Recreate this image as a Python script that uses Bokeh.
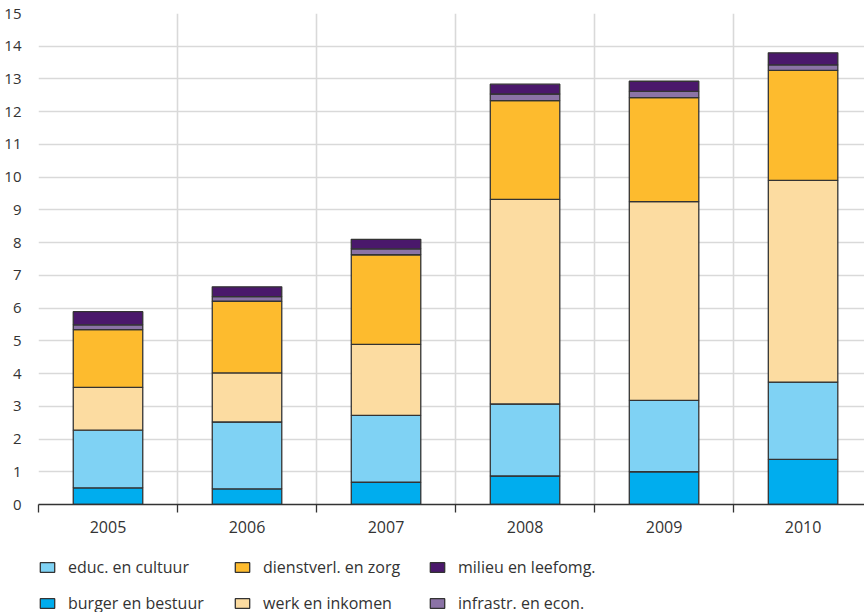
from bokeh.plotting import figure
from bokeh.layouts import column
from bokeh.models import Range1d, FixedTicker, LinearAxis, Legend, LegendItem, ColumnDataSource
from bokeh.embed import file_html
from bokeh.resources import INLINE

years = ["2005", "2006", "2007", "2008", "2009", "2010"]
burger = [0.51, 0.48, 0.68, 0.87, 1.00, 1.38]
educ = [1.76, 2.04, 2.04, 2.20, 2.18, 2.36]
werk = [1.31, 1.50, 2.17, 6.25, 6.07, 6.16]
dienst = [1.76, 2.19, 2.74, 3.02, 3.18, 3.36]
infra = [0.15, 0.14, 0.18, 0.20, 0.19, 0.17]
milieu = [0.40, 0.30, 0.29, 0.30, 0.31, 0.37]

series_keys = ["burger", "educ", "werk", "dienst", "infra", "milieu"]
series_names = ["burger en bestuur", "educ. en cultuur", "werk en inkomen",
                "dienstverl. en zorg", "infrastr. en econ.", "milieu en leefomg."]
colors = ["#00adee", "#7fd2f4", "#fcdca1", "#fdbb2e", "#8b73a6", "#4a186b"]
y_ticks = list(range(0, 16))

FONT = "Open Sans"
TXT = "#333333"

x_centers = [i + 0.5 for i in range(len(years))]
x_bounds = list(range(len(years) + 1))

src = ColumnDataSource(dict(x=x_centers, burger=burger, educ=educ, werk=werk,
                            dienst=dienst, infra=infra, milieu=milieu))

p = figure(width=864, height=555, x_range=Range1d(0, 5.942), y_range=Range1d(0, 15),
           output_backend="svg", toolbar_location=None,
           min_border_left=38, min_border_right=0, min_border_top=13, min_border_bottom=51)
p.outline_line_color = None

rs = p.vbar_stack(series_keys, x="x", width=0.5, source=src, fill_color=colors,
                  line_color="#333333", line_width=1.3)

# boundary tick axis
xa = p.xaxis[0]
xa.ticker = FixedTicker(ticks=x_bounds)
xa.major_label_overrides = {b: "" for b in x_bounds}
xa.major_label_text_font_size = "0px"
xa.major_label_standoff = 0
xa.major_tick_in = 0
xa.major_tick_out = 8
xa.minor_tick_line_color = None
xa.axis_line_color = "#333333"
xa.axis_line_width = 1.3
xa.major_tick_line_color = "#333333"
xa.major_tick_line_width = 1.3

# label axis
xl = LinearAxis(ticker=FixedTicker(ticks=x_centers),
                major_label_overrides={c: y for c, y in zip(x_centers, years)},
                axis_line_color=None, major_tick_line_color=None, minor_tick_line_color=None,
                major_tick_in=0, major_tick_out=0, major_label_standoff=8,
                major_label_text_font=FONT, major_label_text_font_size="16px",
                major_label_text_color=TXT)
p.add_layout(xl, "below")

ya = p.yaxis[0]
ya.ticker = FixedTicker(ticks=y_ticks)
ya.axis_line_color = None
ya.major_tick_line_color = None
ya.minor_tick_line_color = None
ya.major_tick_in = 0
ya.major_tick_out = 0
ya.major_label_standoff = 17
ya.major_label_text_align = "center"
ya.major_label_text_font = FONT
ya.major_label_text_font_size = "15px"
ya.major_label_text_color = TXT

p.xgrid.ticker = FixedTicker(ticks=x_bounds)
p.ygrid.ticker = FixedTicker(ticks=y_ticks)
for g in (p.xgrid, p.ygrid):
    g.grid_line_color = "#d9d9d9"
    g.grid_line_width = 1.6

# legend strip below the chart (its own bar renderers are hidden; only swatches show)
lg = figure(width=864, height=57, x_range=Range1d(0, 5.942), y_range=Range1d(0, 15),
            output_backend="svg", toolbar_location=None, x_axis_type=None, y_axis_type=None,
            min_border=0)
lg.outline_line_color = None
lg.xgrid.visible = False
lg.ygrid.visible = False
lrs = lg.vbar_stack(series_keys, x="x", width=0.5, source=src, fill_color=colors,
                    line_color="#333333", line_width=1.3)
for r in lrs:
    r.visible = False

order = [1, 0, 3, 2, 5, 4]
items = [LegendItem(label=series_names[i], renderers=[lrs[i]]) for i in order]
legend = Legend(items=items, location="top_left", orientation="vertical", ncols=3,
                glyph_width=18, glyph_height=12, label_standoff=12, label_height=24,
                label_width=153, spacing=12, padding=0, margin=0,
                border_line_color=None, background_fill_alpha=0,
                inactive_fill_alpha=0,
                label_text_font=FONT, label_text_font_size="16px", label_text_color=TXT)
lg.add_layout(legend, "center")

open("out.html", "w").write(file_html(column(p, lg, spacing=0), INLINE))
